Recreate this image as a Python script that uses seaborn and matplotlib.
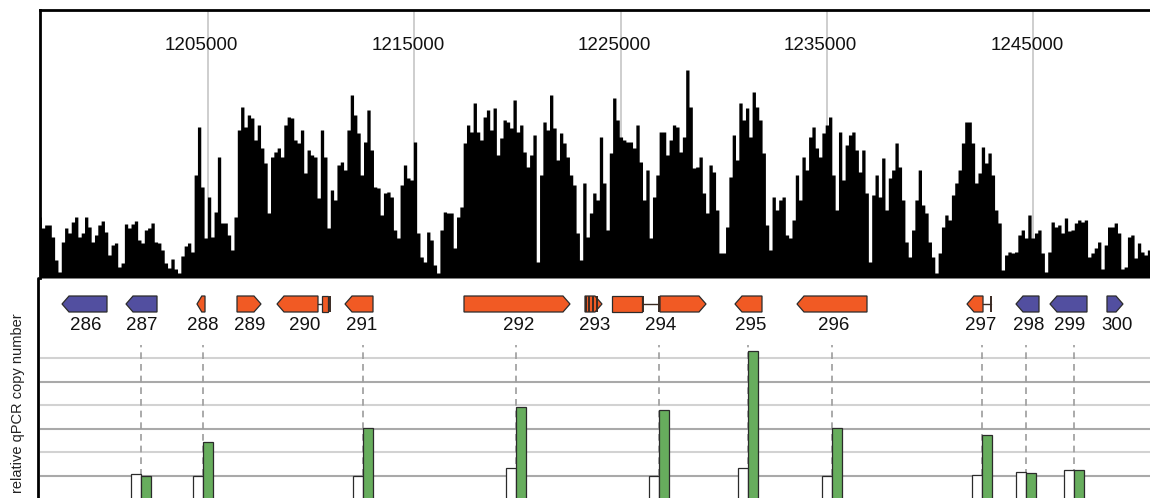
import numpy as np
import pandas as pd
import matplotlib
matplotlib.use("Agg")
import matplotlib.pyplot as plt
from matplotlib.patches import Polygon
from matplotlib.lines import Line2D
import seaborn as sns

# ---------------------------------------------------------------- data
# sequencing read depth, fixed-width bins along the chromosome
cov_start = 1196760
cov_bin = 161
coverage = [
    61, 50, 53, 53, 41, 18, 6, 36, 50, 45, 56, 61, 41, 45, 61, 51, 36, 43, 53, 57,
    46, 23, 33, 35, 11, 15, 54, 50, 54, 57, 38, 35, 48, 50, 55, 36, 35, 28, 15, 10,
    19, 9, 5, 22, 32, 35, 26, 103, 151, 91, 40, 81, 41, 66, 121, 55,
    55, 43, 28, 61, 148, 171, 151, 163, 160, 138, 153, 130, 115, 65, 121, 126, 130, 121, 153, 161,
    160, 138, 135, 148, 105, 128, 123, 121, 80, 148, 121, 50, 88, 78, 113, 116, 108, 148, 183, 163,
    145, 103, 136, 168, 128, 91, 90, 63, 85, 86, 81, 48, 40, 93, 113, 100,
    98, 136, 45, 21, 16, 46, 38, 13, 5, 48, 66, 65, 65, 30, 61, 71, 135, 153, 146, 175,
    146, 138, 161, 168, 148, 170, 123, 140, 158, 156, 150, 178, 146, 153, 126, 111, 123, 143, 16, 103,
    156, 148, 183, 150, 118, 145, 135, 121, 103, 93, 45, 18, 95, 41, 65, 85,
    78, 141, 95, 48, 125, 180, 158, 141, 138, 136, 136, 130, 153, 116, 78, 108, 40, 81, 103, 146,
    146, 123, 138, 153, 151, 126, 141, 208, 171, 110, 111, 121, 85, 65, 113, 106, 68, 25, 25, 51,
    101, 143, 118, 175, 158, 170, 141, 186, 171, 158, 125, 53, 28, 81, 68, 78,
    81, 43, 40, 58, 103, 78, 121, 108, 141, 151, 130, 121, 145, 153, 161, 103, 68, 146, 98, 133,
    143, 146, 128, 106, 128, 85, 16, 83, 103, 81, 120, 68, 100, 108, 135, 111, 78, 36, 21, 48,
    78, 108, 73, 65, 36, 21, 5, 25, 51, 63, 58, 83, 95, 108, 135, 156,
    156, 135, 95, 105, 131, 115, 125, 103, 68, 55, 8, 23, 26, 25, 26, 43, 48, 40, 63, 40,
    45, 48, 25, 6, 26, 56, 51, 53, 45, 60, 47, 48, 55, 58, 56, 58, 21, 25, 30, 36,
    9, 33, 51, 51, 55, 45, 9, 11, 41, 43, 20, 35, 26, 23, 28,
]

coord_ticks = [1205000, 1215000, 1225000, 1235000, 1245000]
view_start, view_end = 1196832, 1250662

# gene annotation
gene_names = ["286", "287", "288", "289", "290", "291", "292", "293",
              "294", "295", "296", "297", "298", "299", "300"]
gene_label_pos = [1199086, 1201801, 1204758, 1207036, 1209702, 1212465, 1220075, 1223759,
                  1226958, 1231321, 1235344, 1242470, 1244796, 1246784, 1249062]
gene_group = ["flank", "flank", "core", "core", "core", "core", "core", "core",
              "core", "core", "core", "core", "flank", "flank", "flank"]

# coding blocks: start, end, shape ('<' reverse arrow, '>' forward arrow, '|' blunt box)
block_gene = ["286", "287", "288", "289", "290", "290", "291", "292", "293",
              "294", "294", "295", "296", "297", "298", "299", "300"]
block_start = [1197923, 1201025, 1204467, 1206406, 1208345, 1210526, 1211641, 1217409, 1223274,
               1224583, 1226910, 1230545, 1233551, 1241791, 1244166, 1245814, 1248577]
block_end = [1200104, 1202528, 1204855, 1207569, 1210332, 1210817, 1212998, 1222547, 1224098,
             1226037, 1229140, 1231854, 1236944, 1242567, 1245281, 1247608, 1249353]
block_shape = ["<", "<", "<", ">", "<", "|", "<", ">", ">",
               "|", ">", "<", "<", "<", "<", "<", ">"]

# intron-like connectors and boundary marks
link_start = [1210332, 1226037, 1242567]
link_end = [1210526, 1226910, 1242954]
mark_pos = [1210914, 1223323, 1223468, 1223662, 1223856, 1226086, 1226861, 1242954]

# qPCR copy number at selected loci
qpcr_pos = [1201752, 1204758, 1212513, 1219930, 1226861, 1231175, 1235247, 1242518, 1244651, 1246978]
qpcr_control = [1.08, 0.98, 1.02, 1.36, 1.00, 1.32, 1.02, 1.06, 1.16, 1.25]
qpcr_treated = [1.02, 2.44, 3.06, 3.92, 3.80, 6.32, 3.06, 2.76, 1.11, 1.25]

# ---------------------------------------------------------------- style
sns.set_theme(style="white")
plt.rcParams["font.family"] = ["Liberation Sans", "DejaVu Sans"]

ORANGE = "#f15a24"
BLUE = "#524fa0"
GREEN = "#5dba50"
EDGE = "#2b2b2b"
group_color = {"core": ORANGE, "flank": BLUE}
gene_color = dict(zip(gene_names, [group_color[g] for g in gene_group]))

W, H = 1150, 498
fig = plt.figure(figsize=(W / 100, H / 100), dpi=100)


def frac_box(x0, y_top, x1, y_bot):
    return [x0 / W, 1 - y_bot / H, (x1 - x0) / W, (y_bot - y_top) / H]


ax_cov = fig.add_axes(frac_box(39.5, 10, 1150, 278))
ax_gene = fig.add_axes(frac_box(39.5, 278, 1150, 345))
ax_q = fig.add_axes(frac_box(39.5, 345, 1150, 499.5))

# ---------------------------------------------------------------- coverage
edges = [cov_start + cov_bin * i for i in range(len(coverage) + 1)]
cov_df = pd.DataFrame({
    "pos": [(a + b) / 2 for a, b in zip(edges[:-1], edges[1:])],
    "depth": coverage,
})
for t in coord_ticks:
    ax_cov.axvline(t, color="#c6c6c6", lw=1.2, zorder=0)
sns.histplot(data=cov_df, x="pos", weights="depth", bins=edges, element="step", fill=True,
             color="black", alpha=1, linewidth=0, ax=ax_cov, zorder=2)
ax_cov.set_xlim(view_start, view_end)
ax_cov.set_ylim(0, 268)
ax_cov.set_xticks([])
ax_cov.set_yticks([])
ax_cov.set_xlabel("")
ax_cov.set_ylabel("")
for side in ["right", "bottom"]:
    ax_cov.spines[side].set_visible(False)
for side in ["top", "left"]:
    ax_cov.spines[side].set_visible(True)
    ax_cov.spines[side].set_color("black")
    ax_cov.spines[side].set_linewidth(2.0)
for t in coord_ticks:
    ax_cov.annotate(f"{t}", xy=(t, 0.866), xycoords=ax_cov.get_xaxis_transform(),
                    xytext=(-4.6, 0), textcoords="offset points",
                    ha="center", va="center", fontsize=13.5, color="#111111")

# ---------------------------------------------------------------- genes
ax_gene.set_xlim(view_start, view_end)
ax_gene.set_ylim(0, 67)
ax_gene.axis("off")
yc, hh = 41, 8
head = 340
for g, s, e, shp in zip(block_gene, block_start, block_end, block_shape):
    c = gene_color[g]
    hl = min(head, 0.6 * (e - s))
    if shp == "<":
        pts = [(s, yc), (s + hl, yc + hh), (e, yc + hh), (e, yc - hh), (s + hl, yc - hh)]
    elif shp == ">":
        pts = [(s, yc + hh), (e - hl, yc + hh), (e, yc), (e - hl, yc - hh), (s, yc - hh)]
    else:
        pts = [(s, yc + hh), (e, yc + hh), (e, yc - hh), (s, yc - hh)]
    ax_gene.add_patch(Polygon(pts, closed=True, facecolor=c, edgecolor=EDGE, lw=0.9, zorder=3))
for s, e in zip(link_start, link_end):
    ax_gene.plot([s, e], [yc, yc], color="#3a2a22", lw=1.0, zorder=2)
ax_gene.vlines(mark_pos, yc - hh, yc + hh, color="#3a2a22", lw=1.4, zorder=4)
for name, p in zip(gene_names, gene_label_pos):
    ax_gene.text(p, 20, name, ha="center", va="center", fontsize=13.5, color="#111111")

# ---------------------------------------------------------------- qPCR
qdf = pd.DataFrame({
    "pos": qpcr_pos * 2,
    "copy": qpcr_control + qpcr_treated,
    "sample": ["control"] * len(qpcr_pos) + ["treated"] * len(qpcr_pos),
})
q_top = 6.574
for lvl in range(1, 7):
    ax_q.axhline(lvl, color="#a9a9a9" if lvl % 2 else "#d2d2d2", lw=1.5, zorder=0)
ax_q.vlines(qpcr_pos, 0, q_top, colors="#9c9c9c", linestyles=(0, (4, 3)), lw=1.2, zorder=1)
bar_bp = 485
min_gap = np.min(np.diff(sorted(qpcr_pos)))
sns.barplot(data=qdf, x="pos", y="copy", hue="sample", hue_order=["control", "treated"],
            palette={"control": "white", "treated": GREEN}, native_scale=True,
            width=2 * bar_bp / min_gap, gap=0, dodge=True, errorbar=None,
            edgecolor=EDGE, linewidth=0.9, legend=False, ax=ax_q, zorder=3)
ax_q.set_xlim(view_start, view_end)
ax_q.set_ylim(0, q_top)
ax_q.set_xticks([])
ax_q.set_yticks([])
ax_q.set_xlabel("")
ax_q.set_ylabel("")
for side in ax_q.spines:
    ax_q.spines[side].set_visible(False)

# left frame line below the coverage track
fig.add_artist(Line2D([37.8 / W, 37.8 / W], [0, 1 - 278 / H], transform=fig.transFigure,
                      color="black", lw=2.0))
fig.text(18 / W, 1 - 403 / H, "relative qPCR copy number", rotation=90,
         ha="center", va="center", fontsize=10.5, color="#222222")

fig.savefig("out.png", dpi=100)
